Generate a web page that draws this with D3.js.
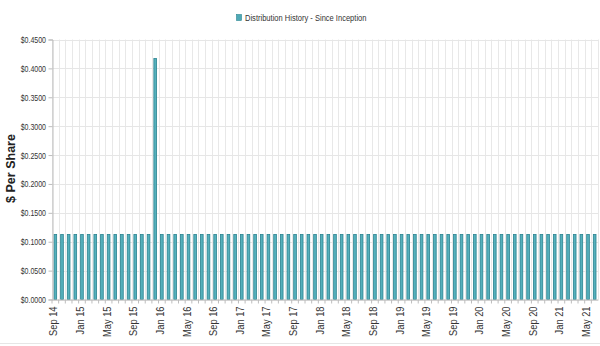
<!DOCTYPE html>
<html>
<head>
<meta charset="utf-8">
<script src="https://cdn.jsdelivr.net/npm/d3@7"></script>
<style>
  html, body { margin: 0; padding: 0; background: #fff; }
  svg { display: block; }
</style>
</head>
<body>
<svg id="chart" width="600" height="346"></svg>
<script>
// ---- data ----
const months = [
  "2014-09","2014-10","2014-11","2014-12",
  "2015-01","2015-02","2015-03","2015-04","2015-05","2015-06","2015-07","2015-08","2015-09","2015-10","2015-11","2015-12",
  "2016-01","2016-02","2016-03","2016-04","2016-05","2016-06","2016-07","2016-08","2016-09","2016-10","2016-11","2016-12",
  "2017-01","2017-02","2017-03","2017-04","2017-05","2017-06","2017-07","2017-08","2017-09","2017-10","2017-11","2017-12",
  "2018-01","2018-02","2018-03","2018-04","2018-05","2018-06","2018-07","2018-08","2018-09","2018-10","2018-11","2018-12",
  "2019-01","2019-02","2019-03","2019-04","2019-05","2019-06","2019-07","2019-08","2019-09","2019-10","2019-11","2019-12",
  "2020-01","2020-02","2020-03","2020-04","2020-05","2020-06","2020-07","2020-08","2020-09","2020-10","2020-11","2020-12",
  "2021-01","2021-02","2021-03","2021-04","2021-05","2021-06"
];
const distributions = [
  0.1125,0.1125,0.1125,0.1125,
  0.1125,0.1125,0.1125,0.1125,0.1125,0.1125,0.1125,0.1125,0.1125,0.1125,0.1125,0.4170,
  0.1125,0.1125,0.1125,0.1125,0.1125,0.1125,0.1125,0.1125,0.1125,0.1125,0.1125,0.1125,
  0.1125,0.1125,0.1125,0.1125,0.1125,0.1125,0.1125,0.1125,0.1125,0.1125,0.1125,0.1125,
  0.1125,0.1125,0.1125,0.1125,0.1125,0.1125,0.1125,0.1125,0.1125,0.1125,0.1125,0.1125,
  0.1125,0.1125,0.1125,0.1125,0.1125,0.1125,0.1125,0.1125,0.1125,0.1125,0.1125,0.1125,
  0.1125,0.1125,0.1125,0.1125,0.1125,0.1125,0.1125,0.1125,0.1125,0.1125,0.1125,0.1125,
  0.1125,0.1125,0.1125,0.1125,0.1125,0.1125
];
const xTickLabels = ["Sep 14","Jan 15","May 15","Sep 15","Jan 16","May 16","Sep 16","Jan 17","May 17","Sep 17",
  "Jan 18","May 18","Sep 18","Jan 19","May 19","Sep 19","Jan 20","May 20","Sep 20","Jan 21","May 21"];
const yTicks = [0, 0.05, 0.10, 0.15, 0.20, 0.25, 0.30, 0.35, 0.40, 0.45];
const seriesName = "Distribution History - Since Inception";
const yTitle = "$ Per Share";

// ---- layout ----
const M = { left: 52, right: 598, top: 39.5, bottom: 299.5 };
const FONT = "'Liberation Sans', Arial, Helvetica, sans-serif";
const SQY = 0.74; // horizontal squeeze of y tick labels
const SQX = 0.93; // squeeze of x tick labels along text direction

const svg = d3.select("#chart");
const data = months.map((m, i) => ({ m, v: distributions[i] }));

const x = d3.scaleBand().domain(months).range([M.left, M.right]).paddingInner(0.6).paddingOuter(0.3);
const y = d3.scaleLinear().domain([0, 0.45]).range([M.bottom, M.top]);
const step = x.step();

// bottom frame line
svg.append("line").attr("x1", 0).attr("x2", 600).attr("y1", 343.5).attr("y2", 343.5)
  .attr("stroke", "#e6e6e6");

// gridlines
const grid = svg.append("g");
months.forEach(m => {
  const bx = Math.round(x(m) + x.bandwidth() / 2 - step / 2) + 0.5;
  grid.append("line").attr("x1", bx).attr("x2", bx).attr("y1", M.top).attr("y2", M.bottom).attr("stroke", "#e8e8e8");
});
{
  const last = months[months.length - 1];
  const bx = Math.round(x(last) + x.bandwidth() / 2 + step / 2) + 0.5;
  grid.append("line").attr("x1", bx).attr("x2", bx).attr("y1", M.top).attr("y2", M.bottom).attr("stroke", "#e8e8e8");
}
yTicks.forEach(t => {
  const yy = Math.round(y(t)) + 0.5;
  grid.append("line").attr("x1", M.left).attr("x2", M.right).attr("y1", yy).attr("y2", yy).attr("stroke", "#e6e6e6");
});

// bars
svg.append("g").selectAll("rect").data(data).join("rect")
  .attr("x", d => x(d.m))
  .attr("width", x.bandwidth())
  .attr("y", d => y(d.v))
  .attr("height", d => y(0) - y(d.v))
  .attr("fill", "#55b0bc")
  .attr("stroke", "#2a8390")
  .attr("stroke-width", 0.8);

// y axis
const yAxis = svg.append("g").attr("transform", `translate(${M.left + 0.5},0)`)
  .call(d3.axisLeft(y).tickValues(yTicks).tickSize(4).tickPadding(2).tickFormat(d => "$" + d.toFixed(4)));
yAxis.select(".domain").attr("stroke", "#bdbdbd");
yAxis.selectAll(".tick line").attr("stroke", "#bdbdbd");
yAxis.selectAll(".tick text")
  .attr("font-family", FONT).attr("font-size", 9.5).attr("fill", "#333")
  .attr("x", -6.5 / SQY).attr("transform", `scale(${SQY},1)`);

// x axis
const xAxis = svg.append("g").attr("transform", `translate(0,${M.bottom})`)
  .call(d3.axisBottom(x).tickValues(months).tickSize(4).tickSizeOuter(0)
    .tickFormat((d, i) => i % 4 === 0 ? xTickLabels[i / 4] : ""));
xAxis.select(".domain").attr("stroke", "#bdbdbd");
xAxis.selectAll(".tick line").attr("stroke", "#bdbdbd")
  .attr("x1", -step / 2).attr("x2", -step / 2);
xAxis.selectAll(".tick text")
  .attr("font-family", FONT).attr("font-size", 10).attr("fill", "#333")
  .attr("text-anchor", "end")
  .attr("x", -7 / SQX).attr("y", -1.5).attr("dy", "0.35em")
  .attr("transform", `rotate(-90) scale(${SQX},1)`);

// y title
svg.append("text")
  .attr("transform", `translate(15,${(M.top + M.bottom) / 2 - 1}) rotate(-90)`)
  .attr("text-anchor", "middle")
  .attr("font-family", FONT).attr("font-size", 12.5).attr("font-weight", "bold").attr("fill", "#222")
  .text(yTitle);

// legend
const lg = svg.append("g");
lg.append("rect").attr("x", 236.5).attr("y", 14.5).attr("width", 5).attr("height", 6)
  .attr("fill", "#4fa9b6").attr("stroke", "#2b8591").attr("stroke-width", 0.6);
lg.append("text").attr("x", 245 / 0.77).attr("y", 21)
  .attr("transform", "scale(0.77,1)")
  .attr("font-family", FONT).attr("font-size", 9.8).attr("fill", "#333")
  .text(seriesName);
</script>
</body>
</html>
